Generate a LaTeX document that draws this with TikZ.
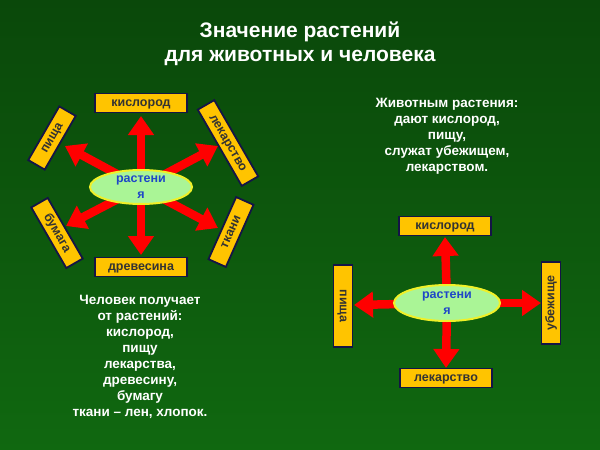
\documentclass[tikz,border=0pt]{standalone}
\usepackage{fontspec}
\setmainfont{Liberation Sans}
\usetikzlibrary{arrows.meta, shapes.geometric}
\definecolor{bgtop}{RGB}{10,72,10}
\definecolor{bgbot}{RGB}{16,104,16}
\definecolor{boxfill}{RGB}{255,196,0}
\definecolor{boxline}{RGB}{20,20,70}
\definecolor{plantfill}{RGB}{170,245,150}
\definecolor{plantline}{RGB}{240,240,40}
\definecolor{plantblue}{RGB}{30,70,200}
\begin{document}
\begin{tikzpicture}
  [
    x=1pt, y=-1pt,
    item/.style={draw=boxline, line width=1.8pt, fill=boxfill, inner sep=0pt,
      minimum width=#1, minimum height=19pt, text height=9pt, text depth=2.5pt,
      font=\bfseries\fontsize{12.5}{13}\selectfont, text=black!80},
    item/.default=92pt,
    plant/.style={ellipse, draw=plantline, line width=2pt, fill=plantfill,
      text=plantblue, font=\bfseries\fontsize{12.5}{16}\selectfont, align=center,
      inner sep=0pt},
    feed/.style={red, line width=8.5pt, -{Triangle[width=25pt,length=19pt]}},
    note/.style={text=white, align=center, font=\bfseries\fontsize{13.5}{16}\selectfont}
  ]
  % background
  \shade[top color=bgtop, bottom color=bgbot] (0,0) rectangle (600,450);
  \useasboundingbox (0,0) rectangle (600,450);
  % title
  \node[text=white, align=center, font=\bfseries\fontsize{21}{24}\selectfont] (title) at (300,44)
    {Значение растений\\для животных и человека};
  % left scheme
  \coordinate (cL) at (141,187);
  \coordinate (tU) at (141,116);
  \coordinate (tUL) at (65,146);
  \coordinate (tUR) at (218,146);
  \coordinate (tDL) at (66,226);
  \coordinate (tDR) at (218,228);
  \coordinate (tD) at (141,255);
  \foreach \t in {tU,tUL,tUR,tDL,tDR,tD} {
      \draw[feed] (cL) -- (\t);
  }
  \node[plant, minimum width=102pt, minimum height=34pt] (plantL) at (cL) {растени\\я};
  \node[item] (oxyL) at (141,103) {кислород};
  \node[item] (wood) at (141,267) {древесина};
  \node[item=62pt, rotate=60] (foodL) at (52,138) {пища};
  \node[item=88pt, rotate=-60] (medL) at (228,143) {лекарство};
  \node[item=70pt, rotate=-60] (paper) at (57,233) {бумага};
  \node[item=68pt, rotate=66] (cloth) at (231,232) {ткани};
  % right scheme
  \coordinate (cR) at (447,303);
  \coordinate (rU) at (445,237);
  \coordinate (rD) at (446,368);
  \coordinate (rL) at (354,305);
  \coordinate (rR) at (541,303);
  \foreach \t in {rU,rD,rL,rR} {
      \draw[feed] (cR) -- (\t);
  }
  \node[plant, minimum width=106pt, minimum height=36pt] (plantR) at (cR) {растени\\я};
  \node[item] (oxyR) at (445,226) {кислород};
  \node[item] (medR) at (446,378) {лекарство};
  \node[item=82pt, rotate=-90] (foodR) at (343,306) {пища};
  \node[item=82pt, rotate=90] (shelter) at (551,303) {убежище};
  % notes
  \node[note] (animals) at (447,136)
    {Животным растения:\\дают кислород,\\пищу,\\служат убежищем,\\лекарством.};
  \node[note] (people) at (140,357)
    {Человек получает\\от растений:\\кислород,\\пищу\\лекарства,\\древесину,\\бумагу\\ткани – лен, хлопок.};
\end{tikzpicture}
\end{document}
